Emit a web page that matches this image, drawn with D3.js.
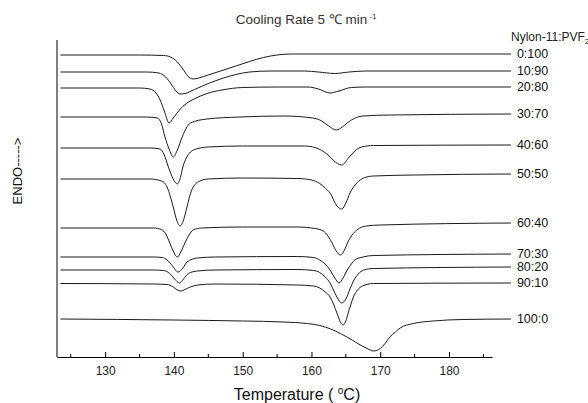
<!DOCTYPE html>
<html>
<head>
<meta charset="utf-8">
<script src="https://cdn.jsdelivr.net/npm/d3@7"></script>
<style>
  body { margin: 0; background: #fff; }
  .line { fill: none; stroke: #1a1a1a; stroke-width: 1; }
  text { font-family: Arial, "Liberation Sans", Helvetica, sans-serif; }
</style>
</head>
<body>
<script>
// DSC cooling traces, [temperature (C), heat flow (arb. units, offset)]
var blend0_100 = [[123.5,30.2],[135,30.2],[138.5,30.15],[139.5,30.0],[140.5,29.5],[141.3,28.8],[142,28.1],[142.8,27.8],[143.6,27.9],[145,28.2],[147,28.65],[149,29.1],[151,29.55],[153,29.95],[155,30.2],[157,30.3],[189,30.3]]
var blend10_90 = [[123.5,28.5],[136,28.5],[137.8,28.4],[138.8,28.0],[139.6,27.3],[140.3,26.6],[140.9,26.3],[141.6,26.35],[143,26.75],[145,27.35],[147,27.85],[149,28.25],[151,28.5],[154,28.6],[159,28.6],[161,28.5],[163.4,28.35],[165.5,28.5],[168,28.6],[189,28.6]]
var blend20_80 = [[123.5,26.9],[135,26.9],[136.5,26.8],[137.4,26.4],[138.0,25.7],[138.6,24.6],[139.3,23.4],[139.9,23.9],[140.8,24.7],[141.8,25.35],[142.8,25.75],[144.8,26.35],[147,26.7],[150,26.95],[155,27.0],[159.5,27.0],[161,26.8],[162.7,26.4],[164,26.6],[165.8,26.95],[168,27.0],[189,27.0]]
var blend30_70 = [[123.5,24.0],[136,24.0],[137.6,23.9],[138.2,23.3],[138.7,22.0],[139.3,20.8],[139.9,20.0],[140.5,20.7],[141.2,22.0],[142.4,23.4],[144.8,23.8],[149.6,24.0],[156,24.1],[160.2,23.9],[161.5,23.6],[162.5,23.1],[163.6,22.7],[164.5,23.0],[165.2,23.4],[166.2,23.85],[167.5,24.1],[171.5,24.2],[189,24.3]]
var blend40_60 = [[123.5,20.9],[136.5,20.9],[138.0,20.8],[138.6,20.2],[139.2,19.0],[139.9,17.8],[140.5,17.3],[141.0,18.1],[141.3,19.0],[141.8,19.9],[142.4,20.5],[143.5,20.85],[145,21.0],[150,21.1],[159,21.1],[160.5,20.95],[161.5,20.65],[162.4,20.2],[163.2,19.65],[164.4,19.2],[165.5,20.0],[166.3,20.6],[167.3,21.0],[169,21.15],[189,21.2]]
var blend50_50 = [[123.5,17.8],[136.5,17.8],[138.2,17.6],[139.0,17.0],[139.5,16.0],[139.9,15.0],[140.4,13.7],[140.9,13.1],[141.4,13.7],[141.9,15.0],[142.3,16.1],[142.8,17.0],[143.8,17.6],[145,17.8],[150,17.9],[158,17.85],[160,17.7],[161.2,17.35],[162,16.9],[162.7,16.4],[163.7,15.1],[164.4,14.8],[165.0,15.4],[165.6,16.4],[166.6,17.4],[167.6,17.9],[169,18.1],[175,18.2],[189,18.3]]
var blend60_40 = [[123.5,12.9],[137,12.9],[138.2,12.75],[138.9,12.2],[139.4,11.4],[139.9,10.6],[140.5,10.0],[141.0,10.5],[141.6,11.4],[142.2,12.2],[142.8,12.7],[144,12.9],[150,13.0],[158,13.0],[160.5,12.85],[161.7,12.6],[162.4,12.1],[163.0,11.4],[163.6,10.6],[164.2,10.2],[164.8,10.7],[165.3,11.5],[165.9,12.2],[166.6,12.7],[168,13.1],[170,13.2],[189,13.4]]
var blend70_30 = [[123.5,10.0],[137,10.0],[138.3,9.95],[139.0,9.7],[139.8,9.1],[140.6,8.5],[141.3,8.9],[141.9,9.5],[143.4,9.9],[146,10.0],[158,10.05],[160.3,9.95],[161.2,9.7],[162.0,9.3],[162.7,8.7],[163.4,7.9],[164.0,7.4],[164.6,7.9],[165.2,8.7],[165.8,9.3],[166.3,9.7],[167.5,10.0],[169,10.15],[189,10.3]]
var blend80_20 = [[123.5,8.7],[137,8.7],[138.5,8.65],[139.4,8.35],[140.1,7.8],[140.8,7.4],[141.4,7.8],[142.1,8.35],[143.4,8.6],[146,8.7],[158,8.75],[160.3,8.65],[161.2,8.45],[162.0,8.0],[162.7,7.4],[163.2,6.7],[163.7,6.0],[164.4,5.4],[165.0,5.8],[165.6,6.8],[166.1,7.6],[166.8,8.3],[167.6,8.7],[169,8.85],[189,9.0]]
var blend90_10 = [[123.5,7.35],[137,7.3],[139,7.25],[139.9,7.0],[140.5,6.7],[141.0,6.6],[141.6,6.75],[142.4,7.0],[143.5,7.2],[146,7.3],[158,7.2],[160.3,7.1],[161.2,6.9],[162.0,6.5],[162.7,6.0],[163.2,5.3],[163.7,4.4],[164.2,3.5],[164.6,3.2],[165.0,3.6],[165.3,4.3],[165.7,5.2],[166.1,6.0],[166.7,6.7],[167.4,7.1],[169,7.35],[189,7.4]]
var blend100_0 = [[123.5,3.8],[140,3.7],[150,3.6],[156,3.5],[159.4,3.35],[161.2,3.15],[162.8,2.8],[164.2,2.35],[165.3,1.95],[166.6,1.4],[168.1,0.85],[169.0,0.6],[170.0,0.85],[170.7,1.35],[171.4,2.0],[172.2,2.5],[172.9,2.9],[174.8,3.35],[177.7,3.6],[182,3.75],[189,3.8]]

var blendLabels = ['0:100', '10:90', '20:80', '30:70', '40:60', '50:50', '60:40', '70:30', '80:20', '90:10', '100:0']
var blendSeries = [blend0_100, blend10_90, blend20_80, blend30_70, blend40_60, blend50_50, blend60_40, blend70_30, blend80_20, blend90_10, blend100_0]

var majorTicks = [130, 140, 150, 160, 170, 180]
var minorTicks = [125, 135, 145, 155, 165, 175, 185]

var W = 588, H = 403
var margin = {top: 40, right: 96, bottom: 46, left: 57}
  , width = W - margin.left - margin.right
  , height = H - margin.top - margin.bottom

// x: temperature, y: heat flow with offsets
var xScale = d3.scaleLinear()
    .domain([123, 186.25])
    .range([0, width])

var yScale = d3.scaleLinear()
    .domain([0, 31.7])
    .range([height, 0])

var root = d3.select("body").append("svg")
    .attr("width", W)
    .attr("height", H)

root.append('text')
    .attr('x', 306)
    .attr('y', 24)
    .attr('text-anchor', 'middle')
    .attr('font-size', '13.5px')
    .attr('fill', '#333')
    .text('Cooling Rate 5 \u2103 min')
  .append('tspan')
    .attr('dy', -5)
    .attr('dx', 2)
    .attr('font-size', '8px')
    .text('-1')

var svg = root.append("g")
    .attr("transform", "translate(" + margin.left + "," + margin.top + ")")

// x axis, ticks pointing inward
var xAxis = svg.append("g")
    .attr("transform", "translate(0," + height + ")")

xAxis.call(d3.axisBottom(xScale)
    .tickValues(majorTicks)
    .tickSizeInner(-5)
    .tickSizeOuter(0)
    .tickPadding(9))

xAxis.selectAll('.tick text')
    .attr('font-size', '12px')
    .attr('font-family', 'Arial, "Liberation Sans", sans-serif')
    .attr('fill', '#222')

xAxis.selectAll('.minor')
    .data(minorTicks)
    .enter()
    .append('line')
    .attr('class', 'minor')
    .attr('x1', function(d) { return xScale(d) })
    .attr('x2', function(d) { return xScale(d) })
    .attr('y1', 0)
    .attr('y2', -3)
    .attr('stroke', '#000')

xAxis.select('.domain').attr('stroke', '#000')

root.append('text')
    .attr('x', 297)
    .attr('y', 400)
    .attr('text-anchor', 'middle')
    .attr('font-size', '16px')
    .attr('fill', '#111')
    .text('Temperature ( ')
  .append('tspan')
    .attr('dy', -6)
    .attr('font-size', '10px')
    .text('o')
  .select(function() { return this.parentNode })
  .append('tspan')
    .attr('dy', 6)
    .text('C)')

// y axis: plain line, no labels
svg.append('line')
    .attr('x1', 0)
    .attr('x2', 0)
    .attr('y1', 0)
    .attr('y2', height)
    .attr('stroke', '#000')

root.append('text')
    .attr('text-anchor', 'middle')
    .attr('font-size', '13px')
    .attr('fill', '#111')
    .attr('transform', 'translate(22,171) rotate(-90)')
    .text('ENDO----->')

// curves
var line = d3.line()
    .x(function(d) { return xScale(d[0]) })
    .y(function(d) { return yScale(d[1]) })
    .curve(d3.curveMonotoneX)

var plot = svg.append('g')

for (let i = 0; i < blendSeries.length; i++) {
    plot.append('path')
        .datum(blendSeries[i])
        .attr('class', 'line')
        .attr('d', line)
    var last = blendSeries[i][blendSeries[i].length - 1]
    plot.append('text')
        .attr('x', xScale(last[0]) + 6)
        .attr('y', yScale(last[1]) + 4)
        .attr('font-size', '12.5px')
        .attr('fill', '#111')
        .text(blendLabels[i])
}

root.append('text')
    .attr('x', 511)
    .attr('y', 41)
    .attr('font-size', '12px')
    .attr('fill', '#222')
    .text('Nylon-11:PVF')
  .append('tspan')
    .attr('dy', 3)
    .attr('font-size', '8px')
    .text('2')
</script>
</body>
</html>
